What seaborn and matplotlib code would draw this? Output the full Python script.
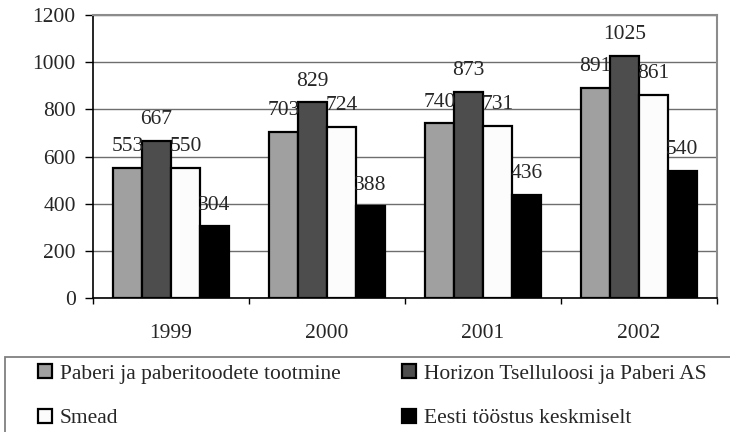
import matplotlib
matplotlib.use("Agg")
import matplotlib.pyplot as plt
import seaborn as sns
import pandas as pd
import numpy as np
from matplotlib.ticker import FixedLocator, NullFormatter
from matplotlib.patches import Rectangle

years = ["1999", "2000", "2001", "2002"]
series = ["Paberi ja paberitoodete tootmine", "Horizon Tselluloosi ja Paberi AS",
          "Smead", "Eesti tööstus keskmiselt"]
paberi = [553, 703, 740, 891]
horizon = [667, 829, 873, 1025]
smead = [550, 724, 731, 861]
eesti = [304, 388, 436, 540]
colors = ["#a0a0a0", "#4d4d4d", "#fcfcfc", "#000000"]

values = [paberi, horizon, smead, eesti]
rows = []
for s, vals in zip(series, values):
    for y, v in zip(years, vals):
        rows.append({"year": y, "series": s, "value": v})
df = pd.DataFrame(rows)

sns.set_style("white")
plt.rcParams["font.family"] = ["Liberation Serif", "DejaVu Serif"]
FS = 15.5

fig = plt.figure(figsize=(7.3, 4.32), dpi=100)
ax = fig.add_axes([93/730, 1-298/432, (717-93)/730, (298-15)/432])

sns.barplot(data=df, x="year", y="value", hue="series", hue_order=series,
            order=years, palette=colors, edgecolor="black", linewidth=1.6,
            width=0.74, gap=0, saturation=1, ax=ax, legend=True, zorder=3)

ax.set_ylim(0, 1200)
ax.set_xlim(-0.5, 3.5)
ax.set_yticks(np.arange(0, 1201, 200))
ax.yaxis.grid(True, color="#6e6e6e", linewidth=1.0, zorder=0)
ax.set_axisbelow(True)
ax.set_xlabel("")
ax.set_ylabel("")

# x ticks: marks at boundaries, labels at centers
ax.xaxis.set_major_locator(FixedLocator([-0.5, 0.5, 1.5, 2.5, 3.5]))
ax.xaxis.set_major_formatter(NullFormatter())
ax.xaxis.set_minor_locator(FixedLocator([0, 1, 2, 3]))
ax.set_xticklabels(years, minor=True)
ax.tick_params(axis="x", which="major", direction="out", length=4, width=1, color="black", bottom=True)
ax.tick_params(axis="x", which="minor", length=0, pad=19, labelsize=FS, bottom=True)
ax.tick_params(axis="y", direction="out", length=5.5, width=1, color="black", pad=7, labelsize=FS, left=True)

for side in ["left", "bottom"]:
    ax.spines[side].set_color("black")
    ax.spines[side].set_linewidth(1.2)
for side in ["top", "right"]:
    ax.spines[side].set_visible(True)
    ax.spines[side].set_color("#8c8c8c")
    ax.spines[side].set_linewidth(1.5)

for cont in ax.containers:
    ax.bar_label(cont, padding=8.5, fontsize=FS)

# legend box
fig.patches.append(Rectangle((5/730, -0.1), 1.0, 0.1 + 1 - 357/432,
                             transform=fig.transFigure, fill=False,
                             edgecolor="#808080", linewidth=1.3))

handles, labels = ax.get_legend_handles_labels()
ax.get_legend().remove()
order = [0, 2, 1, 3]
leg = fig.legend([handles[i] for i in order], [labels[i] for i in order],
                 loc="upper left", bbox_to_anchor=(38/730, 1-364/432),
                 ncol=2, fontsize=FS, frameon=False, borderaxespad=0,
                 handlelength=0.65, handleheight=0.65, handletextpad=0.35,
                 labelspacing=1.16, borderpad=0, columnspacing=2.87)
for h in leg.legend_handles:
    h.set_edgecolor("black")
    h.set_linewidth(1.6)

fig.savefig("out.png", dpi=100)
